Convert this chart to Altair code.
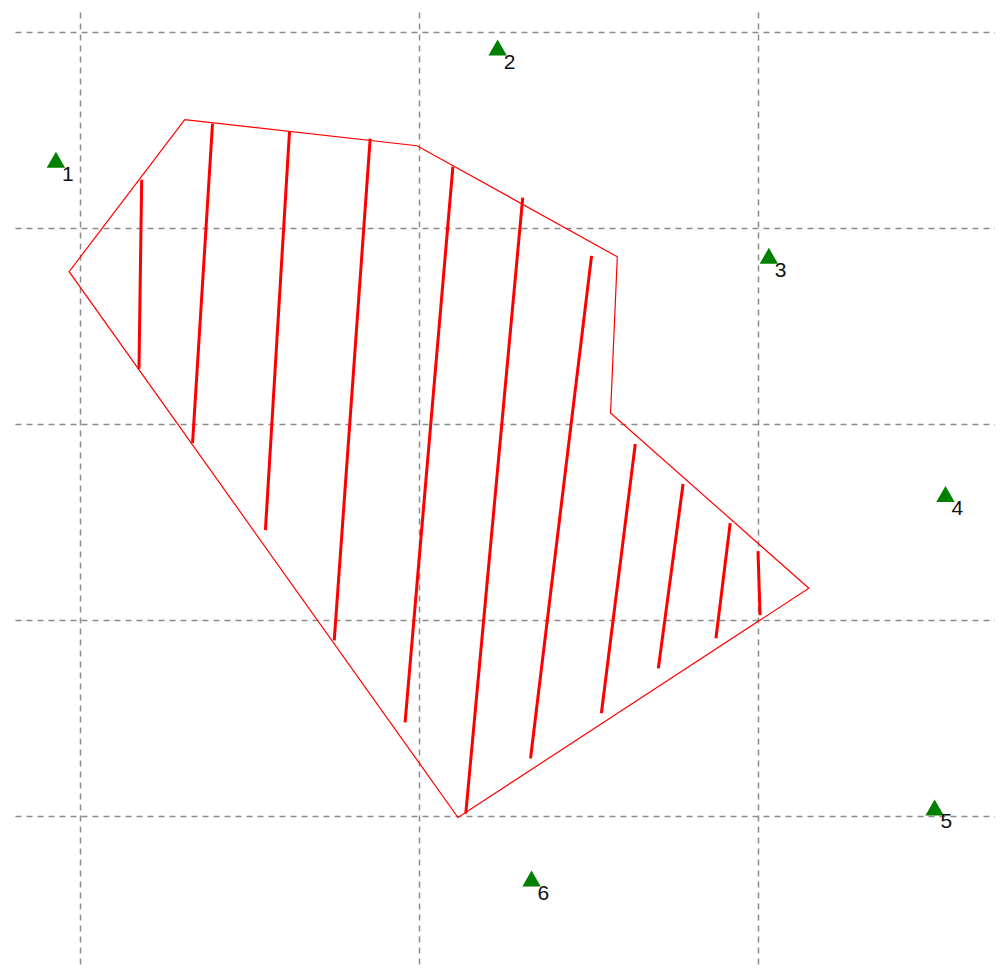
import altair as alt
import pandas as pd

# Survey-style coordinates (easting E, northing N)
poly_e = [130.9, 199.4, 258.5, 256.5, 315.0, 211.5, 96.8, 130.9]
poly_n = [455.1, 441.8, 385.2, 305.6, 216.3, 99.5, 377.6, 455.1]

# Hatch strokes: bottom (E1, N1) to top (E2, N2)
hatch_e1 = [117.4, 133.2, 154.7, 175.0, 195.9, 213.8, 232.9, 253.8, 270.6, 287.6, 300.6]
hatch_n1 = [328.1, 290.3, 245.9, 189.8, 148.0, 101.5, 129.6, 152.6, 175.5, 190.8, 202.6]
hatch_e2 = [118.2, 139.1, 161.8, 185.6, 210.0, 230.6, 250.9, 263.8, 277.9, 291.8, 300.0]
hatch_n2 = [424.5, 453.1, 449.0, 445.4, 431.1, 415.3, 385.7, 289.8, 269.4, 249.5, 235.2]

# Stations
st_labels = ["1", "2", "3", "4", "5", "6"]
st_e = [92.9, 223.2, 303.2, 355.3, 352.1, 233.2]
st_n = [434.7, 491.8, 385.7, 264.3, 104.6, 68.4]

grid_e = [100, 200, 300]
grid_n = [100, 200, 300, 400, 500]

x_dom = [80.83, 369.91]
y_dom = [24.33, 509.94]

poly_df = pd.DataFrame({"E": poly_e, "N": poly_n, "ord": list(range(len(poly_e)))})
hatch_df = pd.DataFrame({"E1": hatch_e1, "N1": hatch_n1, "E2": hatch_e2, "N2": hatch_n2})
st_df = pd.DataFrame({"label": st_labels, "E": st_e, "N": st_n})

xs = alt.Scale(domain=x_dom, nice=False, zero=False)
ys = alt.Scale(domain=y_dom, nice=False, zero=False)

grid_axis = dict(labels=False, ticks=False, domain=False, grid=True, title=None,
                 gridColor="#8c8c8c", gridDash=[6, 5], gridWidth=1.5)

x_enc = alt.X("E:Q", scale=xs, axis=alt.Axis(values=grid_e, **grid_axis))
y_enc = alt.Y("N:Q", scale=ys, axis=alt.Axis(values=grid_n, **grid_axis))

poly = alt.Chart(poly_df).mark_line(color="#ff0000", strokeWidth=1.2, clip=True).encode(
    x=x_enc, y=y_enc, order="ord:Q"
)

hatch = alt.Chart(hatch_df).mark_rule(color="#ff0000", strokeWidth=3, strokeCap="butt").encode(
    x=alt.X("E1:Q", scale=xs), y=alt.Y("N1:Q", scale=ys),
    x2="E2:Q", y2="N2:Q"
)

pts = alt.Chart(st_df).mark_point(shape="triangle-up", filled=True, color="#008000",
                                  size=340, opacity=1).encode(
    x=alt.X("E:Q", scale=xs), y=alt.Y("N:Q", scale=ys)
)

labels = alt.Chart(st_df).mark_text(align="left", baseline="alphabetic", dx=6, dy=21,
                                    font="Liberation Sans", fontSize=21, color="#111111").encode(
    x=alt.X("E:Q", scale=xs), y=alt.Y("N:Q", scale=ys), text="label:N"
)

chart = alt.layer(poly, hatch, pts, labels).properties(
    width=980, height=953,
    padding={"left": 7, "top": 4, "right": 0, "bottom": 0},
    background="#ffffff",
).configure_view(stroke=None)

chart.save("out.html", embed_options={"renderer": "svg", "actions": False})
